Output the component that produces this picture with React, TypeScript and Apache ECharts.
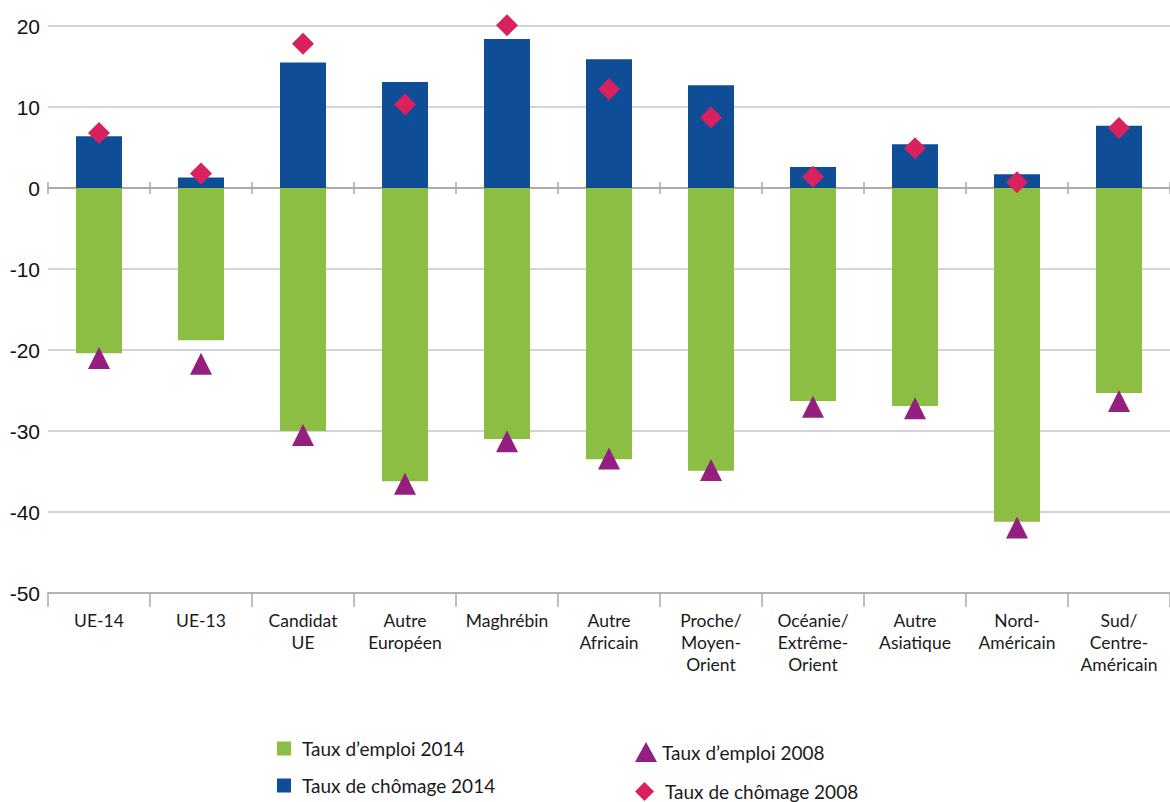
import React, { useEffect, useRef } from 'react';
import * as echarts from 'echarts';

const categories = [
  'UE-14',
  'UE-13',
  'Candidat\nUE',
  'Autre\nEuropéen',
  'Maghrébin',
  'Autre\nAfricain',
  'Proche/\nMoyen-\nOrient',
  'Océanie/\nExtrême-\nOrient',
  'Autre\nAsiatique',
  'Nord-\nAméricain',
  'Sud/\nCentre-\nAméricain',
];

const emploi2014 = [-20.4, -18.8, -30.0, -36.2, -31.0, -33.5, -34.9, -26.3, -26.9, -41.2, -25.3];
const chomage2014 = [6.4, 1.3, 15.5, 13.1, 18.4, 15.9, 12.7, 2.6, 5.4, 1.7, 7.7];
const emploi2008 = [-21.0, -21.7, -30.5, -36.5, -31.25, -33.4, -34.8, -27.0, -27.2, -41.9, -26.3];
const chomage2008 = [6.8, 1.8, 17.8, 10.3, 20.1, 12.2, 8.7, 1.4, 4.9, 0.7, 7.4];

const yTicks = { min: -50, max: 20, interval: 10 };

const NAME_E14 = 'Taux d’emploi 2014';
const NAME_C14 = 'Taux de chômage 2014';
const NAME_E08 = 'Taux d’emploi 2008';
const NAME_C08 = 'Taux de chômage 2008';

const GREEN = '#8CBE43';
const BLUE = '#0F4D96';
const PURPLE = '#951F80';
const PINK = '#D9215F';
const AXIS_GREY = '#a8a8a8';

const LEGEND_TEXT = { fontFamily: 'Lato', fontSize: 19, color: '#1a1a1a' };

export default function App() {
  const ref = useRef<HTMLDivElement>(null);

  useEffect(() => {
    const chart = echarts.init(ref.current!, null, { renderer: 'svg' });

    const zeroAxis = (inside: boolean) => ({
      type: 'category',
      data: categories,
      position: 'bottom',
      axisLine: {
        show: true,
        onZero: true,
        onZeroAxisIndex: 0,
        lineStyle: { color: AXIS_GREY, width: 1.5 },
      },
      axisTick: {
        show: true,
        inside,
        length: 6,
        interval: 0,
        lineStyle: { color: AXIS_GREY, width: 1.5 },
      },
      axisLabel: { show: false },
      splitLine: { show: false },
    });

    const legendItem = (
      name: string,
      icon: string,
      left: number,
      top: number,
      w: number,
      h: number,
      textPad: number
    ) => ({
      orient: 'horizontal',
      left,
      top,
      padding: 0,
      itemWidth: w,
      itemHeight: h,
      selectedMode: false,
      data: [{ name, icon }],
      textStyle: { ...LEGEND_TEXT, padding: [0, 0, 0, textPad] },
    });

    chart.setOption({
      animation: false,
      backgroundColor: '#ffffff',
      grid: { left: 48, right: -8, top: 26, bottom: 209, containLabel: false },
      xAxis: [
        {
          type: 'category',
          data: categories,
          position: 'bottom',
          axisLine: { onZero: false, lineStyle: { color: AXIS_GREY, width: 1.5 } },
          axisTick: { show: true, length: 14, interval: 0, lineStyle: { color: AXIS_GREY, width: 1.5 } },
          axisLabel: {
            interval: 0,
            margin: 16,
            fontFamily: 'Lato',
            fontSize: 17.5,
            lineHeight: 22,
            color: '#1a1a1a',
          },
          splitLine: { show: false },
        },
        zeroAxis(true),
        zeroAxis(false),
      ],
      yAxis: {
        type: 'value',
        min: yTicks.min,
        max: yTicks.max,
        interval: yTicks.interval,
        axisLine: { show: false },
        axisTick: { show: false },
        splitLine: { lineStyle: { color: '#c6c6c6', width: 1.5 } },
        axisLabel: {
          margin: 8,
          fontFamily: 'Liberation Sans',
          fontSize: 21,
          color: '#111111',
        },
      },
      legend: [
        legendItem(NAME_E14, 'rect', 277, 739, 14, 14, 6),
        legendItem(NAME_C14, 'rect', 277, 776, 14, 14, 6),
        legendItem(NAME_E08, 'triangle', 635, 742, 22, 20, 0),
        legendItem(NAME_C08, 'diamond', 635, 782, 19, 19, 6),
      ],
      series: [
        {
          name: NAME_E14,
          type: 'bar',
          stack: 'total',
          barWidth: 46,
          itemStyle: { color: GREEN },
          data: emploi2014,
        },
        {
          name: NAME_C14,
          type: 'bar',
          stack: 'total',
          barWidth: 46,
          itemStyle: { color: BLUE },
          data: chomage2014,
        },
        {
          name: NAME_E08,
          type: 'scatter',
          symbol: 'triangle',
          symbolSize: 22,
          clip: false,
          itemStyle: { color: PURPLE, opacity: 1 },
          data: emploi2008,
          z: 5,
        },
        {
          name: NAME_C08,
          type: 'scatter',
          symbol: 'diamond',
          symbolSize: 22,
          clip: false,
          itemStyle: { color: PINK, opacity: 1 },
          data: chomage2008,
          z: 5,
        },
      ],
    });

    return () => chart.dispose();
  }, []);

  return (
    <div
      ref={ref}
      style={{ position: 'fixed', left: 0, top: 0, width: 1170, height: 802, background: '#fff' }}
    />
  );
}
